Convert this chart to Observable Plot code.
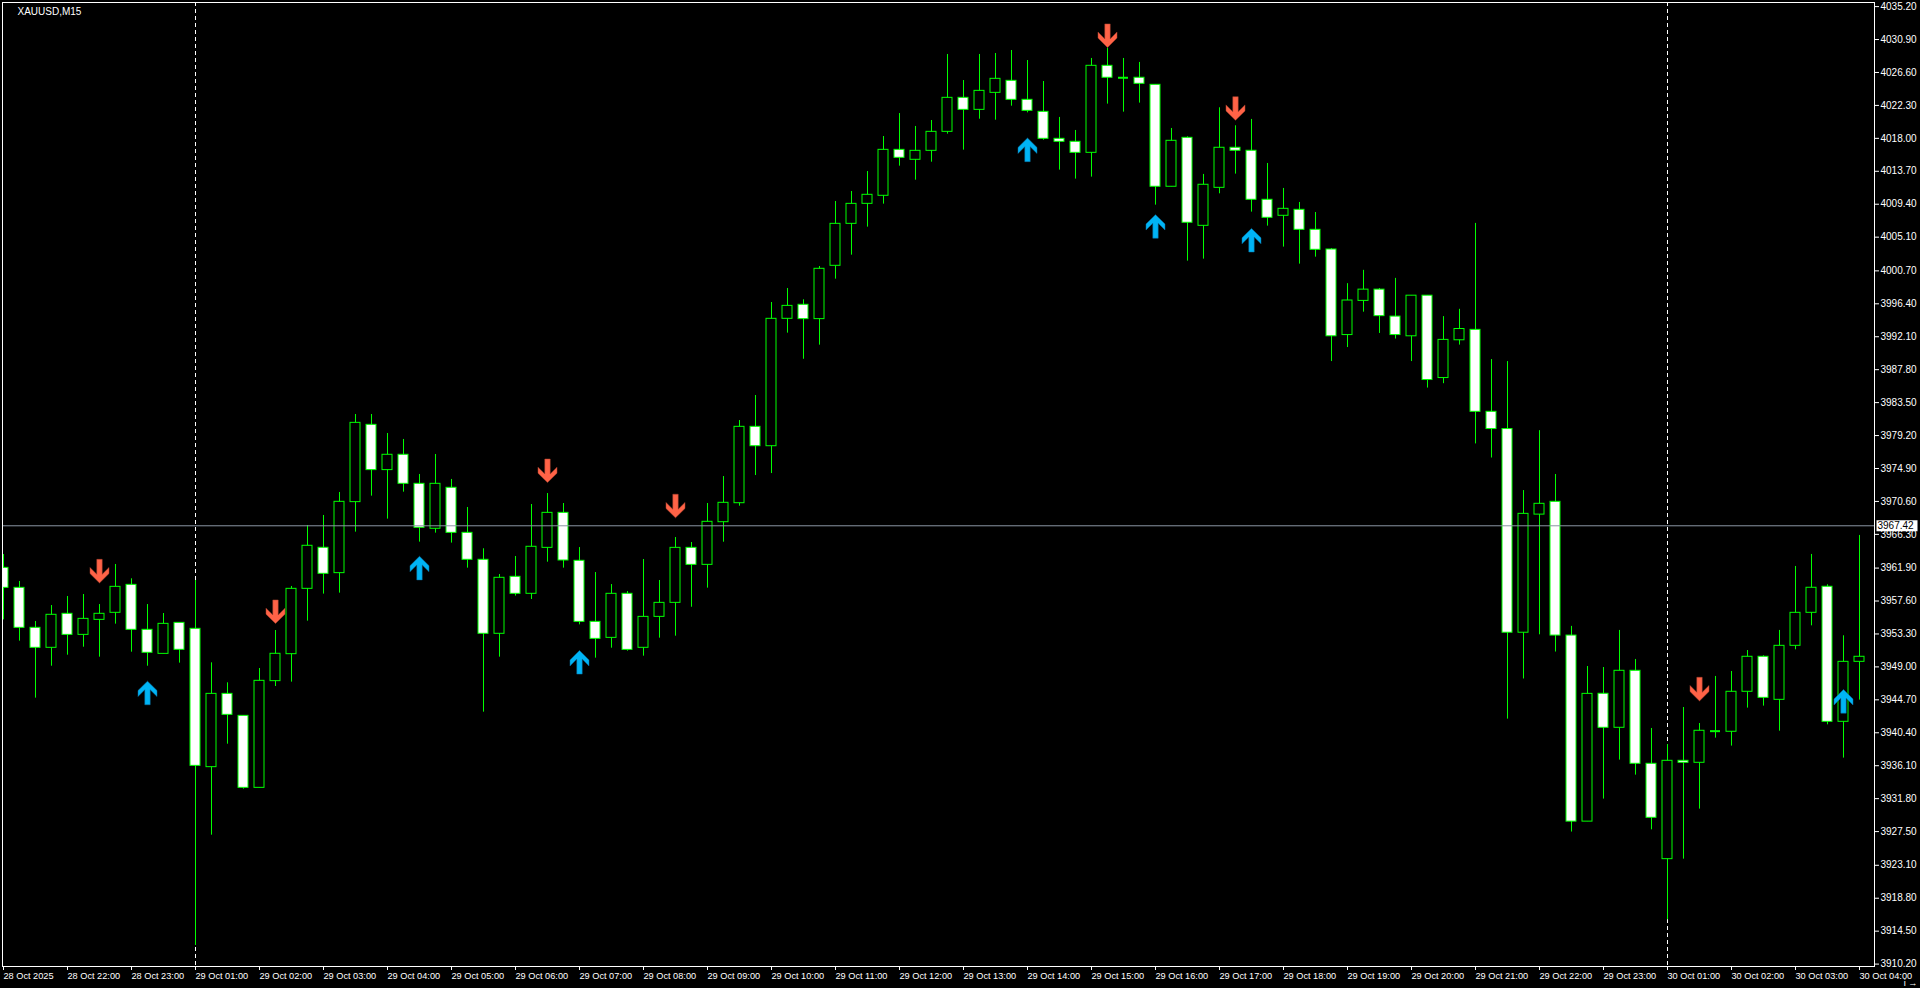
<!DOCTYPE html>
<html><head><meta charset="utf-8">
<script src="https://cdn.jsdelivr.net/npm/d3@7"></script>
<script src="https://cdn.jsdelivr.net/npm/@observablehq/plot@0.6"></script>
<style>html,body{margin:0;padding:0;background:#000;overflow:hidden}</style>
</head><body><div id="chart"></div>
<script>
const symbolName = "XAUUSD,M15";
const open = [3961.93,3959.32,3954.10,3951.49,3955.93,3953.18,3955.14,3956.06,3959.71,3953.84,3950.70,3954.75,3953.97,3935.91,3945.48,3942.61,3933.21,3947.14,3950.66,3959.19,3964.55,3961.24,3970.51,3980.60,3974.69,3976.69,3972.90,3967.03,3972.38,3966.50,3962.98,3953.32,3960.76,3958.54,3964.54,3969.11,3962.85,3954.88,3952.79,3958.54,3951.49,3955.53,3957.36,3964.54,3962.32,3967.89,3970.37,3980.34,3977.81,3994.44,3996.27,3994.40,4001.36,4006.84,4009.45,4010.50,4016.50,4015.20,4016.37,4018.85,4023.29,4021.72,4023.94,4025.51,4023.03,4021.46,4017.94,4017.55,4016.11,4027.47,4025.91,4025.91,4024.99,4011.68,4018.07,4006.58,4011.54,4016.77,4016.38,4009.98,4007.89,4008.67,4006.06,4003.49,3992.32,3996.78,3998.25,3994.73,3992.16,3997.46,3986.71,3991.64,3993.00,3982.30,3980.05,3953.46,3968.88,3970.55,3953.09,3928.80,3945.49,3941.05,3948.49,3936.35,3923.90,3936.74,3936.48,3940.61,3940.53,3945.75,3950.32,3944.70,3951.75,3956.06,3959.46,3941.83,3949.66];
const high = [3963.67,3960.15,3954.93,3957.01,3958.19,3958.45,3957.14,3962.37,3960.50,3957.14,3955.97,3954.75,3960.28,3949.53,3946.92,3942.61,3948.79,3953.75,3959.50,3967.46,3968.77,3971.77,3981.95,3981.95,3979.47,3978.69,3974.12,3976.73,3973.47,3969.81,3964.42,3961.06,3963.41,3970.20,3971.63,3970.33,3964.58,3961.32,3959.75,3958.84,3963.02,3960.28,3965.89,3965.24,3970.33,3973.85,3981.16,3984.43,3996.57,3998.40,3996.92,4001.27,4009.76,4011.06,4013.67,4018.24,4021.24,4019.55,4020.33,4028.95,4025.55,4028.95,4029.08,4029.47,4028.16,4025.42,4020.73,4019.03,4028.43,4029.78,4028.43,4027.91,4024.99,4019.29,4018.20,4013.29,4021.99,4019.64,4020.47,4014.72,4011.46,4009.63,4008.32,4003.60,3999.03,4000.77,3998.40,3999.72,3997.46,3997.46,3994.73,3995.68,4006.90,3989.12,3988.86,3972.02,3979.84,3974.12,3954.29,3949.05,3948.92,3953.76,3949.97,3940.96,3938.87,3943.70,3941.61,3947.75,3948.40,3951.14,3950.45,3953.76,3962.11,3963.68,3959.72,3953.06,3966.16];
const low = [3955.14,3952.36,3944.92,3949.09,3950.53,3951.57,3950.27,3954.58,3950.92,3949.09,3950.70,3949.49,3912.63,3927.03,3938.91,3933.04,3933.21,3946.44,3947.01,3954.97,3958.50,3958.63,3966.59,3971.29,3968.29,3971.81,3965.29,3966.46,3965.16,3961.89,3943.09,3950.27,3958.24,3957.80,3962.67,3961.89,3954.49,3950.14,3951.44,3951.05,3950.40,3952.75,3953.01,3956.79,3959.28,3965.28,3969.98,3973.98,3974.24,3992.57,3989.16,3991.00,3999.62,4002.75,4006.41,4009.41,4014.37,4012.54,4014.89,4018.55,4016.46,4020.50,4020.37,4022.20,4021.33,4017.76,4013.85,4012.68,4012.94,4022.47,4021.42,4022.60,4009.28,4011.68,4001.97,4002.23,4010.76,4013.33,4008.37,4006.54,4003.80,4001.58,4002.49,3988.86,3990.69,3995.31,3992.53,3991.80,3988.86,3985.40,3985.97,3991.01,3978.11,3976.27,3942.18,3947.42,3953.19,3950.94,3927.44,3928.80,3931.74,3936.83,3934.87,3927.73,3915.98,3923.90,3930.43,3939.70,3938.66,3943.62,3943.88,3940.61,3951.23,3954.36,3941.44,3937.09,3944.66];
const close = [3959.32,3954.10,3951.49,3955.80,3953.18,3955.27,3955.93,3959.45,3953.84,3950.84,3954.62,3951.23,3936.08,3945.48,3942.74,3933.21,3947.18,3950.71,3959.19,3964.81,3961.15,3970.55,3980.86,3974.69,3976.69,3972.90,3967.16,3972.90,3966.50,3962.98,3953.32,3960.63,3958.54,3964.68,3969.11,3962.89,3954.88,3952.66,3958.54,3951.22,3955.53,3957.36,3964.54,3962.32,3967.94,3970.42,3980.34,3977.81,3994.44,3996.13,3994.40,4000.97,4006.84,4009.45,4010.63,4016.50,4015.46,4016.37,4018.85,4023.29,4021.72,4024.20,4025.77,4023.03,4021.59,4017.94,4017.55,4016.11,4027.47,4025.91,4025.91,4025.12,4011.68,4017.68,4006.98,4011.94,4016.77,4016.38,4009.98,4007.63,4008.80,4006.06,4003.45,3992.16,3996.83,3998.25,3994.79,3992.32,3997.46,3986.45,3991.69,3993.11,3982.30,3980.05,3953.46,3968.98,3970.29,3953.09,3928.80,3945.48,3941.05,3948.49,3936.35,3929.30,3936.74,3936.48,3940.66,3940.61,3945.75,3950.32,3944.96,3951.75,3956.06,3959.33,3941.83,3949.66,3950.32];

const sellIdx = [6,17,34,42,69,77,106];
const sellPrice = [3961.5,3956.2,3974.6,3970.0,4031.4,4021.9,3946.1];
const buyIdx = [9,26,36,64,72,78,115];
const buyPrice = [3945.6,3961.9,3949.6,4016.5,4006.5,4004.7,3944.5];

const priceTicks = [4035.20,4030.90,4026.60,4022.30,4018.00,4013.70,4009.40,4005.10,4000.70,3996.40,3992.10,3987.80,3983.50,3979.20,3974.90,3970.60,3966.30,3961.90,3957.60,3953.30,3949.00,3944.70,3940.40,3936.10,3931.80,3927.50,3923.10,3918.80,3914.50,3910.20];
const timeTickIdx = [0,4,8,12,16,20,24,28,32,36,40,44,48,52,56,60,64,68,72,76,80,84,88,92,96,100,104,108,112,116];
const timeTickText = ["28 Oct 2025","28 Oct 22:00","28 Oct 23:00","29 Oct 01:00","29 Oct 02:00","29 Oct 03:00","29 Oct 04:00","29 Oct 05:00","29 Oct 06:00","29 Oct 07:00","29 Oct 08:00","29 Oct 09:00","29 Oct 10:00","29 Oct 11:00","29 Oct 12:00","29 Oct 13:00","29 Oct 14:00","29 Oct 15:00","29 Oct 16:00","29 Oct 17:00","29 Oct 18:00","29 Oct 19:00","29 Oct 20:00","29 Oct 21:00","29 Oct 22:00","29 Oct 23:00","30 Oct 01:00","30 Oct 02:00","30 Oct 03:00","30 Oct 04:00"];
const daySeparators = [12, 104];
const levelPrice = 3967.42;

const candles = open.map((o, i) => ({i, open: o, high: high[i], low: low[i], close: close[i]}));
const bulls = candles.filter(d => d.close > d.open);
const bears = candles.filter(d => d.close < d.open);
const dojis = candles.filter(d => d.close === d.open);
const sells = sellIdx.map((i, k) => ({i, p: sellPrice[k]}));
const buys = buyIdx.map((i, k) => ({i, p: buyPrice[k]}));

const downArrow = {draw(c) {
  c.moveTo(-2.7,-11.8); c.lineTo(2.7,-11.8); c.lineTo(2.7,3.2); c.lineTo(9.5,-3.6);
  c.lineTo(9.5,2.4); c.lineTo(0,11.8); c.lineTo(-9.5,2.4); c.lineTo(-9.5,-3.6); c.lineTo(-2.7,3.2); c.closePath();
}};
const upArrow = {draw(c) {
  c.moveTo(-2.7,11.8); c.lineTo(2.7,11.8); c.lineTo(2.7,-3.2); c.lineTo(9.5,3.6);
  c.lineTo(9.5,-2.4); c.lineTo(0,-11.8); c.lineTo(-9.5,-2.4); c.lineTo(-9.5,3.6); c.lineTo(-2.7,-3.2); c.closePath();
}};
const tagBox = {draw(c) { c.rect(-20.5, -5.5, 41, 11); }};

const HW = 5 / 16;
const GREEN = "#00ff00";

const chart = Plot.plot({
  width: 1920, height: 988,
  marginLeft: 2, marginRight: 46, marginTop: 2, marginBottom: 22,
  style: {background: "#000", color: "#fff", fontFamily: "Tahoma, 'Liberation Sans', Arial, sans-serif", fontSize: "10px"},
  x: {type: "linear", domain: [-0.0625, 116.9375], axis: null},
  y: {type: "linear", domain: [3909.887, 4035.735], axis: null},
  marks: [
    Plot.ruleX(daySeparators, {x: d => d, stroke: "#fff", strokeDasharray: "4,3"}),
    Plot.ruleX(candles, {x: "i", y1: "low", y2: "high", stroke: GREEN, clip: true}),
    Plot.rect(bulls, {x1: d => d.i - HW, x2: d => d.i + HW, y1: "open", y2: "close", fill: "#000", stroke: GREEN, clip: true}),
    Plot.rect(bears, {x1: d => d.i - HW, x2: d => d.i + HW, y1: "open", y2: "close", fill: "#fff", stroke: GREEN, clip: true}),
    Plot.ruleY(dojis, {y: "close", x1: d => d.i - HW, x2: d => d.i + HW, stroke: GREEN, strokeWidth: 2, clip: true}),
    Plot.ruleY([levelPrice], {y: d => d, stroke: "#8a96a3"}),
    Plot.dot(sells, {x: "i", y: "p", symbol: downArrow, fill: "#ff6347", stroke: "#a8402e", strokeWidth: 0.5}),
    Plot.dot(buys, {x: "i", y: "p", symbol: upArrow, fill: "#00b4f5", stroke: "#0a6fa0", strokeWidth: 0.5}),
    Plot.axisY(priceTicks, {anchor: "right", tickSize: 4, tickPadding: 2, tickFormat: d => d.toFixed(2), stroke: "#fff", fill: "#fff"}),
    Plot.axisX(timeTickIdx, {anchor: "bottom", tickSize: 4, tickPadding: 2, textAnchor: "start", fontSize: 9.2, tickFormat: (d) => timeTickText[timeTickIdx.indexOf(d)], stroke: "#fff", fill: "#fff"}),
    Plot.dot([levelPrice], {y: d => d, frameAnchor: "right", dx: 22.5, symbol: tagBox, fill: "#fff", stroke: "none"}),
    Plot.text([levelPrice], {y: d => d, frameAnchor: "right", dx: 3, textAnchor: "start", text: d => d.toFixed(2), fill: "#000"}),
    Plot.text([symbolName], {frameAnchor: "top-left", dx: 15, dy: 9, textAnchor: "start", lineAnchor: "middle", text: d => d, fill: "#fff"}),
    Plot.frame({stroke: "#fff"})
  ]
});
document.getElementById("chart").appendChild(chart);
</script>
</body></html>
